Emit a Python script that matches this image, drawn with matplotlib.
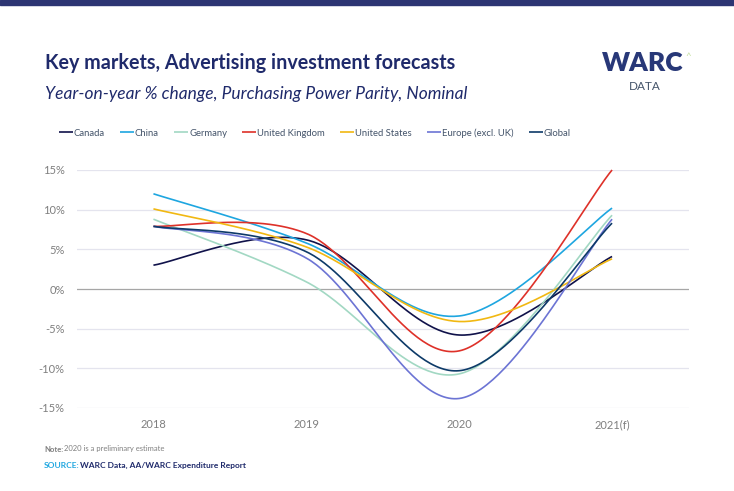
import numpy as np
import matplotlib.pyplot as plt

plt.rcParams['font.family'] = ['Lato', 'DejaVu Sans']

# Данные (годовое изменение, %)
years = ['2018', '2019', '2020', '2021(f)']
series = ['Canada', 'China', 'Germany', 'United Kingdom', 'United States',
          'Europe (excl. UK)', 'Global']
canada = [3.0, 6.2, -5.8, 4.1]
china = [12.0, 5.8, -3.4, 10.2]
germany = [8.8, 0.9, -10.7, 9.3]
uk = [7.9, 7.0, -7.8, 15.0]
us = [10.1, 5.3, -4.1, 3.8]
europe = [7.9, 3.9, -13.8, 8.8]
global_ = [7.9, 4.7, -10.3, 8.3]
values = [canada, china, germany, uk, us, europe, global_]
colors = ['#10124a', '#1ea6e0', '#a2d8c3', '#de3129', '#f1b812',
          '#6c74d4', '#0d3a68']

navy = '#1f2a6b'


# Сглаживание как в Excel (кривые Безье по схеме Катмулла-Рома)
def smooth(x, y, n=60):
    p = np.column_stack([x, y]).astype(float)
    p = np.vstack([p[0], p, p[-1]])
    xs, ys = [], []
    t = np.linspace(0, 1, n)[:, None]
    for i in range(1, len(p) - 2):
        p0, p1, p2, p3 = p[i - 1], p[i], p[i + 1], p[i + 2]
        c1 = p1 + (p2 - p0) / 6
        c2 = p2 - (p3 - p1) / 6
        b = ((1 - t)**3 * p1 + 3 * (1 - t)**2 * t * c1
             + 3 * (1 - t) * t**2 * c2 + t**3 * p2)
        xs.append(b[:, 0])
        ys.append(b[:, 1])
    return np.concatenate(xs), np.concatenate(ys)


fig = plt.figure(figsize=(7.34, 4.91), dpi=100)
ax = fig.add_axes([77 / 734, 83 / 491, 611.5 / 734, 238 / 491])

x = np.arange(len(years))
for name, vals, c in zip(series, values, colors):
    sx, sy = smooth(x, vals)
    ax.plot(sx, sy, color=c, lw=1.2, label=name, clip_on=False,
            solid_capstyle='butt')

ax.set_xlim(-0.5, 3.5)
ax.set_ylim(-15, 15)
ax.set_yticks(np.arange(-15, 16, 5))
ax.set_yticklabels([f'{v}%' for v in range(-15, 16, 5)])
ax.set_xticks(x)
ax.set_xticklabels(years)
ax.tick_params(length=0, labelsize=8, labelcolor='#7f7f7f')
ax.tick_params(axis='y', pad=9)
ax.tick_params(axis='x', pad=8)
for s in ax.spines.values():
    s.set_visible(False)
for v in range(-15, 16, 5):
    ax.axhline(v, color='#a6a6a6' if v == 0 else '#e4e4ee', lw=0.9, zorder=0)

# Легенда
fig.legend(loc='center left', bbox_to_anchor=(50 / 734, 1 - 133 / 491),
           ncol=7, frameon=False, fontsize=6.8, handlelength=1.5,
           handletextpad=0.1, columnspacing=1.6, labelcolor='#44546a')

# Верхняя полоса
fig.patches.append(plt.Rectangle((0, 1 - 5 / 491), 1, 5 / 491,
                                 transform=fig.transFigure,
                                 color='#2d3573'))

# Заголовки
fig.text(45 / 734, 1 - 63 / 491, 'Key markets, Advertising investment forecasts',
         fontsize=14.2, fontweight='bold', color=navy, va='center')
fig.text(45 / 734, 1 - 94 / 491,
         'Year-on-year % change, Purchasing Power Parity, Nominal',
         fontsize=12.5, style='italic', color=navy, va='center')

# Логотип
fig.text(643 / 734, 1 - 63 / 491, 'WARC', fontsize=19, fontweight='heavy',
         color='#283878', ha='center', va='center')
fig.text(645 / 734, 1 - 86 / 491, 'DATA', fontsize=8.5, color='#44546a',
         ha='center', va='center')
fig.text(688 / 734, 1 - 57 / 491, '^', fontsize=7, color='#c5e0a0',
         ha='center', va='center')

# Примечания
fig.text(44 / 734, 1 - 449 / 491, 'Note:', fontsize=5.5, fontweight='bold',
         color='#808080', va='center')
fig.text(64 / 734, 1 - 449 / 491, '2020 is a preliminary estimate',
         fontsize=5.5, color='#808080', va='center')
fig.text(44 / 734, 1 - 465 / 491, 'SOURCE:', fontsize=6, fontweight='bold',
         color='#1ea6e0', va='center')
fig.text(80 / 734, 1 - 465 / 491, 'WARC Data, AA/WARC Expenditure Report',
         fontsize=6, fontweight='bold', color=navy, va='center')

fig.savefig('out.png', dpi=100)
